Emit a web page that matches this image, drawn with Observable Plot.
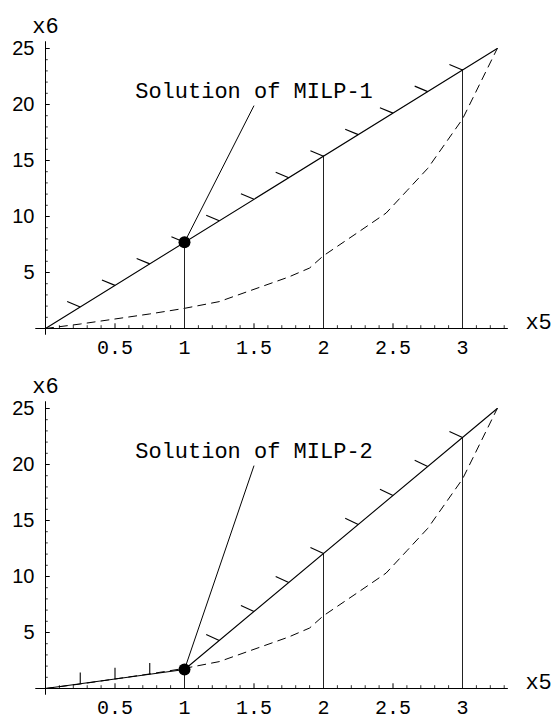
<!DOCTYPE html>
<html><head><meta charset="utf-8">
<script src="https://cdn.jsdelivr.net/npm/d3@7"></script>
<script src="https://cdn.jsdelivr.net/npm/@observablehq/plot@0.6"></script>
<style>
body{margin:0;background:#fff}
svg{display:block;overflow:visible}
</style>
</head><body><div id="chart"></div>
<script>
// ---- data ----
const xTickValues = [0.5, 1, 1.5, 2, 2.5, 3];
const xTickLabels = ["0.5", "1", "1.5", "2", "2.5", "3"];
const yTickValues = [5, 10, 15, 20, 25];
const yTickLabels = ["5", "10", "15", "20", "25"];
const xAxisLabel = "x5";
const yAxisLabel = "x6";

// dashed curve (same in both panels)
const curveX = [0, 0.25, 0.5, 0.75, 1, 1.25, 1.5, 1.75, 1.9, 2, 2.25, 2.45, 2.6, 2.75, 3, 3.25];
const curveY = [0, 0.4, 0.85, 1.3, 1.8, 2.4, 3.5, 4.6, 5.4, 6.5, 8.6, 10.3, 12.3, 14.3, 18.7, 25];

// panel 1 : MILP-1
const milp1LineX = [0, 3.25];
const milp1LineY = [0, 25];
const milp1CutX = [1, 2, 3];
const milp1CutY = [7.7, 15.4, 23.1];
const milp1HatchX = [0.25, 0.5, 0.75, 1, 1.25, 1.5, 1.75, 2, 2.25, 2.5, 2.75, 3];
const milp1HatchY = [1.92, 3.85, 5.77, 7.7, 9.62, 11.54, 13.46, 15.38, 17.31, 19.23, 21.15, 23.08];
const milp1HatchSeg = [0, 0, 0, 0, 0, 0, 0, 0, 0, 0, 0, 0];
const milp1Point = [1, 7.7];
const milp1Label = "Solution of MILP-1";
const milp1LabelAt = [1.5, 21.25];
const milp1LeaderFrom = [1.5, 19.9];

// panel 2 : MILP-2
const milp2LineX = [0, 1, 3.25];
const milp2LineY = [0, 1.7, 25];
const milp2CutX = [1, 2, 3];
const milp2CutY = [1.7, 12.06, 22.41];
const milp2HatchX = [0.25, 0.5, 0.75, 1.25, 1.5, 1.75, 2, 2.25, 2.5, 2.75, 3];
const milp2HatchY = [0.43, 0.85, 1.28, 4.29, 6.88, 9.47, 12.06, 14.65, 17.24, 19.83, 22.41];
const milp2HatchSeg = [0, 0, 0, 1, 1, 1, 1, 1, 1, 1, 1];
const milp2Point = [1, 1.7];
const milp2Label = "Solution of MILP-2";
const milp2LabelAt = [1.5, 21.25];
const milp2LeaderFrom = [1.5, 19.9];

// ---- drawing ----
const MONO = "'Liberation Mono', 'Courier New', monospace";
const SANS = "'Liberation Sans', Helvetica, Arial, sans-serif";
const xMinor = d3.range(1, 34).map(i => i / 10).filter(v => Math.abs(v * 2 - Math.round(v * 2)) > 1e-6);
const yMinor = d3.range(1, 26).filter(v => v % 5 !== 0);

function panel(p, height, hatchDirs) {
  const curve = curveX.map((x, i) => ({x, y: curveY[i]}));
  const line = p.lineX.map((x, i) => ({x, y: p.lineY[i]}));
  const cuts = p.cutX.map((x, i) => ({x, y: p.cutY[i]}));
  const hatches = p.hatchX.map((x, i) => {
    const d = hatchDirs[p.hatchSeg[i]];
    return {x1: x, y1: p.hatchY[i], x2: x + d[0], y2: p.hatchY[i] + d[1]};
  });
  return Plot.plot({
    width: 552,
    height,
    marginLeft: 45,
    marginRight: 34.4,
    marginTop: 36.8,
    marginBottom: height - 328,
    x: {domain: [0, 3.4], axis: null},
    y: {domain: [0, 26], axis: null},
    style: {background: "#fff", overflow: "visible"},
    marks: [
      // axes
      Plot.ruleY([0], {x1: -0.07, x2: 3.33, stroke: "#000", strokeWidth: 1}),
      Plot.ruleX([0], {y1: -0.6, y2: 25.6, stroke: "#000", strokeWidth: 1}),
      Plot.ruleX(xTickValues, {y1: 0, y2: 0.42, stroke: "#000", strokeWidth: 1}),
      Plot.ruleX(xMinor, {y1: 0, y2: 0.25, stroke: "#000", strokeWidth: 0.8}),
      Plot.ruleY(yTickValues, {x1: 0, x2: 0.034, stroke: "#000", strokeWidth: 1}),
      Plot.ruleY(yMinor, {x1: 0, x2: 0.02, stroke: "#000", strokeWidth: 0.8}),
      Plot.text(xTickValues, {x: d => d, y: 0, text: (d, i) => xTickLabels[i], dy: 19,
        fontFamily: MONO, fontSize: 20, fill: "#000"}),
      Plot.text(yTickValues, {x: 0, y: d => d, text: (d, i) => yTickLabels[i], dx: -11,
        textAnchor: "end", fontFamily: SANS, fontSize: 20, fill: "#000"}),
      Plot.text([yAxisLabel], {frameAnchor: "top-left", dy: -20, textAnchor: "middle",
        fontFamily: MONO, fontSize: 22, fill: "#000"}),
      Plot.text([xAxisLabel], {frameAnchor: "bottom-right", dx: 20.5, textAnchor: "middle",
        fontFamily: MONO, fontSize: 22, fill: "#000"}),
      // dashed curve
      Plot.line(curve, {x: "x", y: "y", stroke: "#000", strokeWidth: 1, strokeDasharray: "8,6"}),
      // vertical cuts
      Plot.ruleX(cuts, {x: "x", y1: 0, y2: "y", stroke: "#222", strokeWidth: 1}),
      // constraint line
      Plot.line(line, {x: "x", y: "y", stroke: "#000", strokeWidth: 1.1}),
      // hatches
      Plot.link(hatches, {x1: "x1", y1: "y1", x2: "x2", y2: "y2", stroke: "#000", strokeWidth: 1.1}),
      // leader line
      Plot.link([0], {x1: p.leaderFrom[0], y1: p.leaderFrom[1], x2: p.point[0], y2: p.point[1],
        stroke: "#000", strokeWidth: 1}),
      // solution point
      Plot.dot([p.point], {x: d => d[0], y: d => d[1], r: 6, fill: "#000", stroke: "none"}),
      // annotation
      Plot.text([p.label], {x: p.labelAt[0], y: p.labelAt[1], fontFamily: MONO, fontSize: 22, fill: "#000"})
    ]
  });
}

const chart = document.getElementById("chart");
chart.append(panel({
  lineX: milp1LineX, lineY: milp1LineY, cutX: milp1CutX, cutY: milp1CutY,
  hatchX: milp1HatchX, hatchY: milp1HatchY, hatchSeg: milp1HatchSeg,
  point: milp1Point, label: milp1Label, labelAt: milp1LabelAt, leaderFrom: milp1LeaderFrom
}, 360, [[-0.094, 0.49]]));
chart.append(panel({
  lineX: milp2LineX, lineY: milp2LineY, cutX: milp2CutX, cutY: milp2CutY,
  hatchX: milp2HatchX, hatchY: milp2HatchY, hatchSeg: milp2HatchSeg,
  point: milp2Point, label: milp2Label, labelAt: milp2LabelAt, leaderFrom: milp2LeaderFrom
}, 364, [[0, 1.0], [-0.094, 0.54]]));
</script>
</body></html>
